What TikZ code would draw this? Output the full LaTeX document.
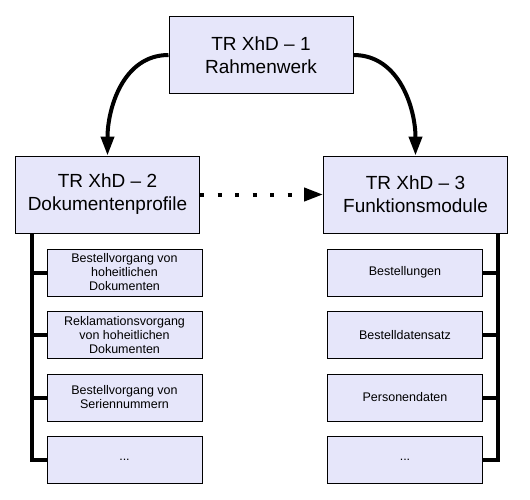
\documentclass[tikz,border=0pt]{standalone}
\usepackage{fontspec}
\setmainfont{Liberation Sans}
\usetikzlibrary{arrows.meta,positioning}
\definecolor{boxfill}{RGB}{230,230,250}
\begin{document}
\begin{tikzpicture}[x=1pt,y=-1pt,
    mainbox/.style={draw,fill=boxfill,line width=1pt,minimum width=184pt,minimum height=77pt,
      inner sep=0pt,align=center,font=\fontsize{19}{23}\selectfont},
    subbox/.style={draw,fill=boxfill,line width=1pt,minimum width=155pt,minimum height=47pt,
      inner sep=0pt,align=center,font=\fontsize{12.5}{14}\selectfont},
    bar/.style={line width=4pt},
    curve/.style={line width=4pt,-{Triangle[length=19pt,width=13pt]}}]
    \useasboundingbox (0,0) rectangle (530,499);
    \node[mainbox] (tr1) at (261,55) {TR XhD -- 1\\Rahmenwerk};
    \node[mainbox] (tr2) at (107.5,194.5) {TR XhD -- 2\\Dokumentenprofile};
    \node[mainbox] (tr3) at (415.5,194.5) {TR XhD -- 3\\Funktionsmodule};

    \draw[curve] (tr1.west) to[out=180,in=90] (tr2.north);
    \draw[curve] (tr1.east) to[out=0,in=90] (tr3.north);
    \draw[line width=4pt,dash pattern=on 4pt off 13.5pt,-{Triangle[length=19pt,width=13pt]}]
      (tr2.east) -- (tr3.west);

    % Dokumentenprofile
    \foreach \y/\txt [count=\i] in {272.5/{Bestellvorgang von\\hoheitlichen\\Dokumenten},
        335/{Reklamationsvorgang\\von hoheitlichen\\Dokumenten},
        397.5/{Bestellvorgang von\\Seriennummern}, 459.5/{...}}
    \node[subbox] (l\i) at (124.5,\y) {\txt};

    % Funktionsmodule
    \foreach \y/\txt [count=\i] in {272.5/Bestellungen, 335/Bestelldatensatz,
        397.5/Personendaten, 459.5/{...}}
    \node[subbox] (r\i) at (405,\y) {\txt};

    \coordinate (ltop) at (32,233);
    \coordinate (rtop) at (498,233);
    \draw[bar] (ltop) |- (l4.west);
    \draw[bar] (rtop) |- (r4.east);
    \foreach \i in {1,2,3} {
      \draw[bar] (ltop |- l\i.west) -- (l\i.west);
      \draw[bar] (rtop |- r\i.east) -- (r\i.east);
    }
  \end{tikzpicture}
\end{document}
